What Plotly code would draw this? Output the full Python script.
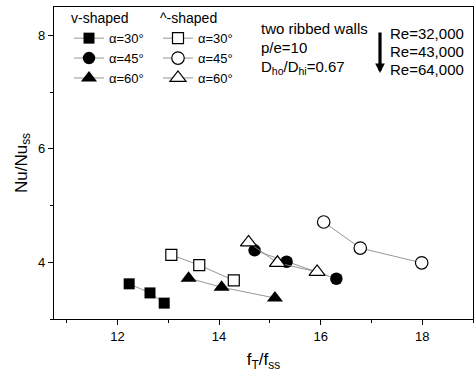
import plotly.graph_objects as go

# data
v30_x = [12.23, 12.64, 12.92]
v30_y = [3.62, 3.46, 3.28]
v45_x = [14.70, 15.33, 16.31]
v45_y = [4.21, 4.01, 3.71]
v60_x = [13.40, 14.05, 15.10]
v60_y = [3.72, 3.56, 3.37]
a30_x = [13.06, 13.61, 14.29]
a30_y = [4.13, 3.95, 3.68]
a45_x = [16.06, 16.78, 17.99]
a45_y = [4.71, 4.25, 3.99]
a60_x = [14.58, 15.15, 15.93]
a60_y = [4.35, 3.99, 3.83]

labels = ["\u03b1=30\u00b0", "\u03b1=45\u00b0", "\u03b1=60\u00b0"]
re_labels = ["Re=32,000", "Re=43,000", "Re=64,000"]
info_labels = ["two ribbed walls", "p/e=10", "D<sub>ho</sub>/D<sub>hi</sub>=0.67"]

FONT = "Arial, Liberation Sans, sans-serif"
LINE = dict(color="#8a8a8a", width=0.9)

fig = go.Figure()

def add(x, y, sym, size, filled, name, legend):
    fig.add_trace(go.Scatter(
        x=x, y=y, mode="lines+markers", name=name, legend=legend,
        line=LINE,
        marker=dict(symbol=sym, size=size,
                    color="black" if filled else "white",
                    line=dict(color="black", width=0 if filled else 1.2)),
    ))

add(v30_x, v30_y, "square", 11, True, labels[0], "legend")
add(v45_x, v45_y, "circle", 12.5, True, labels[1], "legend")
add(v60_x, v60_y, "triangle-up", 14, True, labels[2], "legend")
add(a30_x, a30_y, "square", 11, False, labels[0], "legend2")
add(a45_x, a45_y, "circle", 12.5, False, labels[1], "legend2")
add(a60_x, a60_y, "triangle-up", 14, False, labels[2], "legend2")

W, H = 475, 372
L, R, T, B = 54, 2, 7, 53
pw, ph = W - L - R, H - T - B

def px(x):
    return (x - L) / pw

def py(y):
    return (H - B - y) / ph

annotations = []
for i, t in enumerate(info_labels):
    annotations.append(dict(text=t, x=px(259), y=py(29 + 19 * i), xref="paper", yref="paper",
                            xanchor="left", yanchor="middle", showarrow=False,
                            font=dict(size=15, color="black", family=FONT)))
for i, t in enumerate(re_labels):
    annotations.append(dict(text=t, x=px(388), y=py(33 + 18.5 * i), xref="paper", yref="paper",
                            xanchor="left", yanchor="middle", showarrow=False,
                            font=dict(size=15, color="black", family=FONT)))
annotations.append(dict(text="", x=px(380), y=py(73), xref="paper", yref="paper",
                        ax=0, ay=-42, showarrow=True, arrowhead=2, arrowsize=0.6,
                        arrowwidth=3.2, arrowcolor="black"))

axis_common = dict(showline=True, linecolor="black", linewidth=1.3, mirror=True,
                   ticks="outside", ticklen=5, tickwidth=1.2, tickcolor="black",
                   showgrid=False, zeroline=False, automargin=False,
                   tickfont=dict(size=13, color="black", family=FONT))

fig.update_layout(
    width=W, height=H,
    margin=dict(l=L, r=R, t=T, b=B, autoexpand=False),
    paper_bgcolor="white", plot_bgcolor="white",
    font=dict(family=FONT, color="black", size=13),
    xaxis=dict(range=[10.75, 19], dtick=2, tick0=12,
               minor=dict(dtick=1, tick0=11, ticks="outside", ticklen=3, tickcolor="black", tickwidth=1),
               title=dict(text="f<sub>T</sub>/f<sub>ss</sub>", font=dict(size=17, family=FONT), standoff=13),
               **axis_common),
    yaxis=dict(range=[3, 8.5], dtick=2, tick0=4,
               minor=dict(dtick=1, tick0=3, ticks="outside", ticklen=3, tickcolor="black", tickwidth=1),
               title=dict(text="Nu/Nu<sub>ss</sub>", font=dict(size=17, family=FONT), standoff=6),
               **axis_common),
    legend=dict(x=px(69), y=py(5), xanchor="left", yanchor="top", bgcolor="rgba(0,0,0,0)",
                title=dict(text="v-shaped", font=dict(size=14)), font=dict(size=13),
                itemclick=False, tracegroupgap=0),
    legend2=dict(x=px(158), y=py(5), xanchor="left", yanchor="top", bgcolor="rgba(0,0,0,0)",
                 title=dict(text="^-shaped", font=dict(size=14)), font=dict(size=13),
                 itemclick=False, tracegroupgap=0),
    annotations=annotations,
    showlegend=True,
)

fig.write_html("out.html", config={"displayModeBar": False},
               post_script="document.body.style.margin='0';document.body.style.overflow='hidden';")
